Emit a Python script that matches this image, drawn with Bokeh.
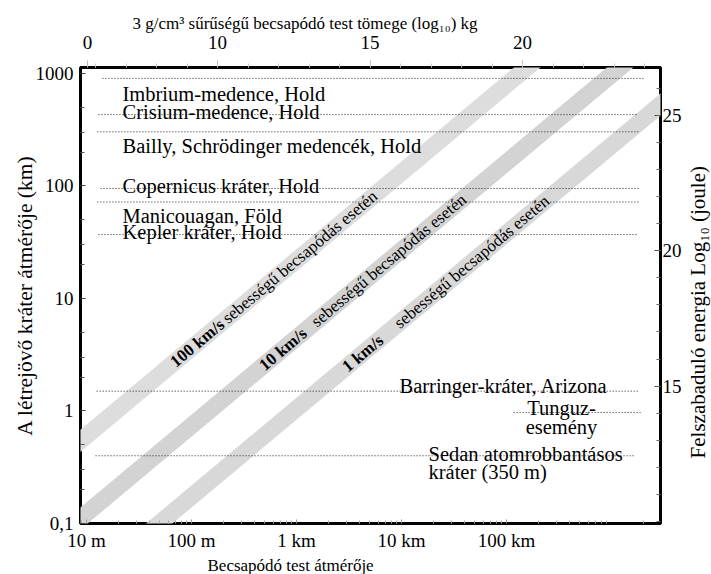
import math
from bokeh.plotting import figure
from bokeh.layouts import row
from bokeh.models import Range1d, LinearAxis, LinearScale, FixedTicker, Label, Title
from bokeh.embed import file_html
from bokeh.resources import INLINE

FONT = "'Liberation Serif', serif"

# ---------------- data ----------------
x_tick_m = [10, 100, 1000, 10000, 100000]
x_tick_labels = ["10 m", "100 m", "1 km", "10 km", "100 km"]
y_tick_km = [0.1, 1, 10, 100, 1000]
y_tick_labels = ["0,1", "1", "10", "100", "1000"]
mass_ticks = [5.74, 10, 15, 20]
mass_tick_labels = ["0", "10", "15", "20"]
energy_ticks = [15, 20, 25]

crater_names = ["Imbrium-medence, Hold", "Crisium-medence, Hold",
                "Bailly, Schrödinger medencék, Hold", "Copernicus kráter, Hold",
                "Manicouagan, Föld", "Kepler kráter, Hold",
                "Barringer-kráter, Arizona", "Tunguz-esemény",
                "Sedan atomrobbantásos kráter (350 m)"]
crater_km = [904, 431, 303, 95, 72, 37, 1.5, 0.97, 0.40]
line_start_m = [14.2, 13.0, 12.7, 13.6, 12.7, 13.0, 12.5, 1.17e5, 12.2]
line_end_m = [2.02e6, 1.77e6, 1.81e6, 1.89e6, 1.81e6, 1.73e6, 1.81e6, 1.89e6, 1.69e6]

speed_labels = ["100 km/s", "10 km/s", "1 km/s"]
band_impactor_m = [[5, 3e5], [5, 3e6], [20, 5e6]]
band_crater_km = [[0.351, 1870], [0.0716, 2300], [0.0495, 804]]
band_label_start_m = [66, 464, 2866]

X_RANGE = (8.77, 2.93e6)
Y_RANGE = (0.1, 1130)

# ---------------- layout helpers ----------------
W, H = 711, 574
SIDE_W = 27                 # narrow strip holding the right-hand title
PW = W - SIDE_W
FL, FR, FT, FB = 80, 660, 67, 525


def sx_to_m(sx):
    a, b = math.log10(X_RANGE[0]), math.log10(X_RANGE[1])
    return 10 ** (a + (sx - FL) / (FR - FL) * (b - a))


# ---------------- main figure ----------------
p = figure(width=PW, height=H, x_axis_type="log", y_axis_type="log",
           x_range=Range1d(*X_RANGE), y_range=Range1d(*Y_RANGE),
           output_backend="svg", toolbar_location=None,
           min_border_left=FL, min_border_top=FT, min_border_right=PW - FR,
           min_border_bottom=H - FB)
p.background_fill_color = "white"
p.border_fill_color = "white"
p.outline_line_color = "black"
p.outline_line_width = 3
p.grid.visible = False

band_colors = ["#dddddd", "#d3d3d3", "#d8d8d8"]
for xs, ys, c in zip(band_impactor_m, band_crater_km, band_colors):
    p.line(xs, ys, line_width=17, line_color=c, line_cap="butt")

p.segment(x0=line_start_m, y0=crater_km, x1=line_end_m, y1=crater_km,
          line_color="#222222", line_width=1, line_dash="1 2")

# band labels
ang = math.radians(40)
bold_w = 68
for xs, ys, lab, xm in zip(band_impactor_m, band_crater_km, speed_labels, band_label_start_m):
    lx0, lx1 = math.log10(xs[0]), math.log10(xs[1])
    ly0, ly1 = math.log10(ys[0]), math.log10(ys[1])
    t = (math.log10(xm) - lx0) / (lx1 - lx0)
    ym = 10 ** (ly0 + t * (ly1 - ly0))
    p.add_layout(Label(x=xm, y=ym, text=lab, angle=ang, text_font=FONT,
                       text_font_size="17px", text_font_style="bold",
                       text_baseline="middle", text_align="left", text_color="black"))
    p.add_layout(Label(x=xm, y=ym, text="sebességű becsapódás esetén", angle=ang,
                       x_offset=bold_w * math.cos(ang), y_offset=bold_w * math.sin(ang),
                       text_font=FONT, text_font_size="17px",
                       text_baseline="middle", text_align="left", text_color="black"))

# crater labels
label_layout = [
    ("Imbrium-medence, Hold", 122, 0, -15.3, "left"),
    ("Crisium-medence, Hold", 122, 1, 2.6, "left"),
    ("Bailly, Schrödinger medencék, Hold", 122, 2, -14.3, "left"),
    ("Copernicus kráter, Hold", 122, 3, 2.6, "left"),
    ("Manicouagan, Föld", 122, 4, -13.7, "left"),
    ("Kepler kráter, Hold", 122, 5, 2.3, "left"),
    ("Barringer-kráter, Arizona", 399, 6, 5.0, "left"),
    ("Tunguz-", 561, 7, 4.0, "center"),
    ("esemény", 561, 7, -15.0, "center"),
    ("Sedan atomrobbantásos", 428, 8, 1.5, "left"),
    ("kráter (350 m)", 428, 8, -16.0, "left"),
]
for txt, sx, idx, dy, al in label_layout:
    p.add_layout(Label(x=sx_to_m(sx), y=crater_km[idx], y_offset=dy, text=txt,
                       text_font=FONT, text_font_size="20.5px",
                       text_baseline="alphabetic", text_align=al, text_color="black"))

# ---------------- axes ----------------
xa = p.xaxis[0]
xa.ticker = FixedTicker(ticks=x_tick_m,
                        minor_ticks=[m * 10 ** e for e in range(0, 7) for m in range(2, 10)])
xa.major_label_overrides = {v: s for v, s in zip(x_tick_m, x_tick_labels)}
xa.major_label_text_font_size = "19px"
xa.major_tick_in = 4
xa.major_tick_out = 0
xa.minor_tick_in = 3
xa.minor_tick_out = 0
xa.major_tick_line_color = "#999999"
xa.minor_tick_line_color = "#aaaaaa"
xa.major_label_standoff = 6

ya = p.yaxis[0]
ya.ticker = FixedTicker(ticks=y_tick_km,
                        minor_ticks=[0.2, 0.3, 0.5, 2, 3, 5, 20, 30, 50, 200, 300, 500])
ya.major_label_overrides = {v: s for v, s in zip(y_tick_km, y_tick_labels)}
ya.major_label_text_font_size = "19px"
ya.major_tick_in = 5
ya.major_tick_out = 0
ya.minor_tick_in = 4
ya.minor_tick_out = 0
ya.major_tick_line_color = "#444444"
ya.minor_tick_line_color = "#555555"
ya.major_label_standoff = 7

p.extra_x_ranges = {"mass": Range1d(5.508, 24.52)}
p.extra_x_scales = {"mass": LinearScale()}
top = LinearAxis(x_range_name="mass",
                 ticker=FixedTicker(ticks=mass_ticks, minor_ticks=list(range(6, 25))))
top.major_label_overrides = {v: s for v, s in zip(mass_ticks, mass_tick_labels)}
top.major_label_text_font_size = "19px"
top.major_tick_in = 0
top.major_tick_out = 7
top.minor_tick_in = 0
top.minor_tick_out = 4
top.major_tick_line_color = "#bbbbbb"
top.minor_tick_line_color = "#cccccc"
top.major_label_standoff = 12
p.add_layout(top, "above")

p.extra_y_ranges = {"energy": Range1d(9.93, 26.76)}
p.extra_y_scales = {"energy": LinearScale()}
right = LinearAxis(y_range_name="energy",
                   ticker=FixedTicker(ticks=energy_ticks, minor_ticks=list(range(10, 27))))
right.major_label_text_font_size = "19px"
right.major_tick_in = 6
right.major_tick_out = 0
right.minor_tick_in = 4
right.minor_tick_out = 0
right.major_tick_line_color = "#444444"
right.minor_tick_line_color = "#666666"
right.major_label_standoff = 2
p.add_layout(right, "right")

for ax in [xa, ya, top, right]:
    ax.axis_line_color = None
    ax.major_label_text_font = FONT
    ax.major_label_text_color = "black"

# axis titles (as Titles so that their off-centre positions can be matched)
t_top = Title(text="3 g/cm³ sűrűségű becsapódó test tömege (log₁₀) kg", align="left",
              offset=52, standoff=0, text_font=FONT, text_font_size="17px",
              text_font_style="normal", text_color="black")
p.add_layout(t_top, "above")
t_bottom = Title(text="Becsapódó test átmérője", align="left", offset=127, standoff=0,
                 text_font=FONT, text_font_size="17px", text_font_style="normal",
                 text_color="black")
p.add_layout(t_bottom, "below")
t_left = Title(text="A létrejövő kráter átmérője (km)", align="center", offset=11,
               standoff=-8, text_font=FONT, text_font_size="21.5px",
               text_font_style="normal", text_color="black")
p.add_layout(t_left, "left")

# ---------------- right-hand title strip ----------------
q = figure(width=SIDE_W, height=H, x_range=Range1d(0, SIDE_W), y_range=Range1d(0, H),
           output_backend="svg", toolbar_location=None,
           x_axis_location=None, y_axis_location=None,
           min_border_left=0, min_border_right=0, min_border_top=0, min_border_bottom=0)
q.grid.visible = False
q.outline_line_color = None
q.background_fill_color = "white"
q.border_fill_color = "white"
q.add_layout(Label(x=SIDE_W / 2, y=H - 308, text="Felszabaduló energia Log₁₀ (joule)",
                   angle=math.pi / 2, text_font=FONT, text_font_size="21px",
                   text_align="center", text_baseline="middle", text_color="black"))

layout = row(p, q, spacing=0)
open("out.html", "w").write(file_html(layout, INLINE))
